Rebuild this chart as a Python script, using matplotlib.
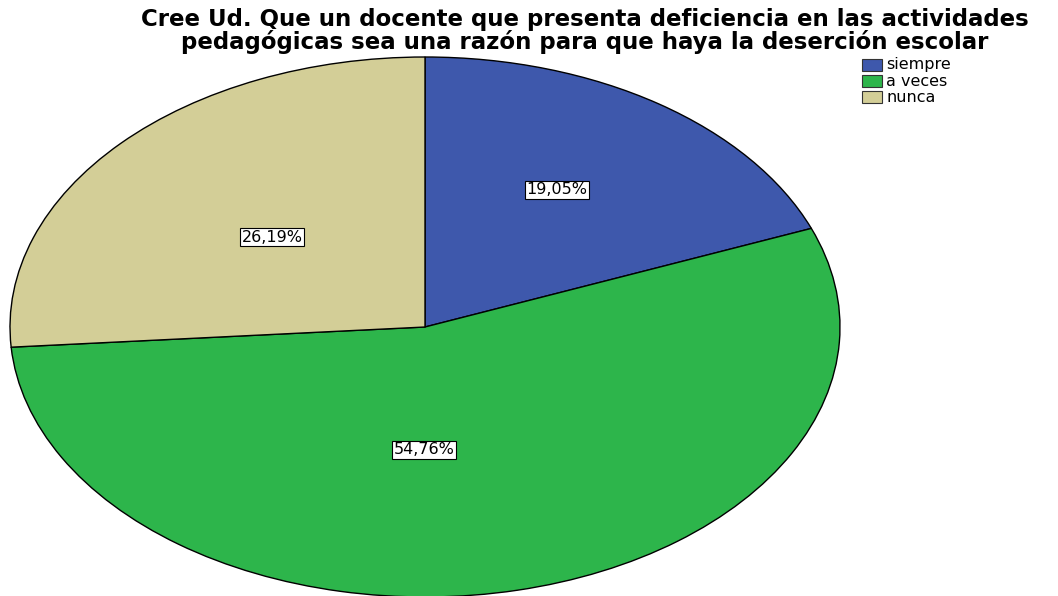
import matplotlib
matplotlib.use("Agg")
import matplotlib.pyplot as plt
from matplotlib.patches import Rectangle

categories = ["siempre", "a veces", "nunca"]
values = [19.05, 54.76, 26.19]
pct_labels = ["19,05%", "54,76%", "26,19%"]
colors = ["#3E58AC", "#2DB54B", "#D3CE97"]
title = ("Cree Ud. Que un docente que presenta deficiencia en las actividades\n"
         "pedagógicas sea una razón para que haya la deserción escolar")

W, H = 1058, 596
fig = plt.figure(figsize=(W / 100, H / 100), dpi=100)
fig.patch.set_facecolor("white")
plt.rcParams["font.family"] = ["DejaVu Sans"]

cx, cy, rx, ry = 425, 327, 415, 270
ax = fig.add_axes([(cx - rx) / W, (H - cy - ry) / H, 2 * rx / W, 2 * ry / H])
wedges, _ = ax.pie(values, colors=colors, startangle=90, counterclock=False,
                   radius=1, wedgeprops=dict(edgecolor="black", linewidth=1.0))
ax.set_aspect("auto")
ax.set_xlim(-1, 1)
ax.set_ylim(-1, 1)
ax.axis("off")

# percentage labels (pixel positions)
label_pos = [(557, 190), (424, 450), (272, 237)]
for (px, py), lab in zip(label_pos, pct_labels):
    fig.text(px / W, 1 - py / H, lab, ha="center", va="center", fontsize=11.5,
             bbox=dict(boxstyle="square,pad=0.12", facecolor="white",
                       edgecolor="black", linewidth=0.8))

fig.text(585 / W, 1 - 31 / H, title, ha="center", va="center",
         fontsize=16.5, fontweight="bold", linespacing=0.9)

# legend
lax = fig.add_axes([0, 0, 1, 1], facecolor="none")
lax.set_xlim(0, W)
lax.set_ylim(H, 0)
lax.axis("off")
rows_y = [65, 81, 97]
for yy, cat, col in zip(rows_y, categories, colors):
    lax.add_patch(Rectangle((862, yy - 6), 20, 12, facecolor=col,
                            edgecolor="#333333", linewidth=0.8))
    lax.text(886, yy, cat, ha="left", va="center", fontsize=11.5)

fig.savefig("out.png", dpi=100, facecolor="white")
